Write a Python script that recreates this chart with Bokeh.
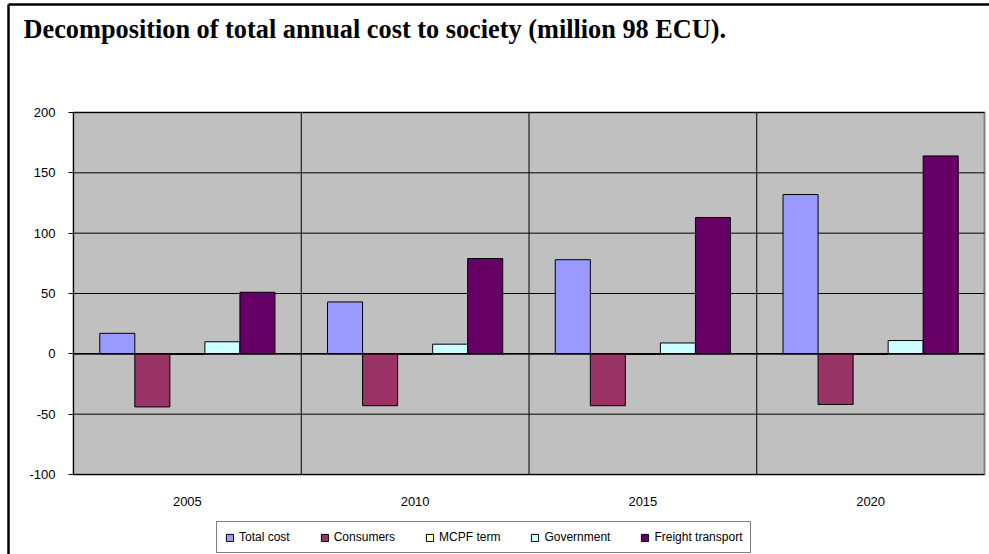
from bokeh.plotting import figure
from bokeh.models import Range1d, FixedTicker, Legend, LegendItem, Label
from bokeh.embed import file_html
from bokeh.resources import INLINE

# ---- data ----
years = ["2005", "2010", "2015", "2020"]
series = ["Total cost", "Consumers", "MCPF term", "Government", "Freight transport"]
total_cost = [17, 43, 78, 132]
consumers = [-44, -43, -43, -42]
mcpf_term = [-0.5, -0.5, -0.5, -0.5]
government = [10, 8, 9, 11]
freight_transport = [51, 79, 113, 164]
colors = ["#9999FF", "#993366", "#FFFFCC", "#CCFFFF", "#660066"]
y_ticks = [-100, -50, 0, 50, 100, 150, 200]
title_text = "Decomposition of total annual cost to society (million 98 ECU)."

values = [total_cost, consumers, mcpf_term, government, freight_transport]

# ---- layout (pixels) ----
W, H = 989, 554
plot_left, plot_right, plot_top, plot_bottom = 73, 984, 112, 474
x_lo, x_hi = 0, len(years)
y_lo, y_hi = y_ticks[0], y_ticks[-1]
kx = (plot_right - plot_left) / (x_hi - x_lo)
ky = (plot_bottom - plot_top) / (y_hi - y_lo)


def xd(px):
    return x_lo + (px - plot_left) / kx


def yd(py):
    return y_hi - (py - plot_top) / ky


p = figure(width=W, height=H, output_backend="svg", toolbar_location=None, title=None,
           x_range=Range1d(xd(0), xd(W)), y_range=Range1d(yd(H), yd(0)),
           min_border=0, background_fill_color="white", border_fill_color="white",
           outline_line_color=None)
p.xgrid.visible = False
p.ygrid.visible = False

# plot area background
p.quad(left=[x_lo], right=[x_hi], bottom=[y_lo], top=[y_hi],
       fill_color="#C0C0C0", line_color="#808080", line_width=2)

# grid lines
p.segment(x0=x_lo, x1=x_hi, y0=y_ticks, y1=y_ticks, line_color="black", line_width=1)
bounds_x = list(range(x_lo + 1, x_hi))
p.segment(x0=bounds_x, x1=bounds_x, y0=y_lo, y1=y_hi, line_color="black", line_width=1)

# bars
n = len(series)
gap = 1.5
w = 1.0 / (n + gap)
items = []
for i, (name, vals, col) in enumerate(zip(series, values, colors)):
    xs = [k + 0.5 + (i - (n - 1) / 2) * w for k in range(len(years))]
    r = p.vbar(x=xs, top=vals, bottom=0, width=w, fill_color=col,
               line_color="black", line_width=1)
    items.append(LegendItem(label=name, renderers=[r]))

# zero (category axis) line
p.segment(x0=[x_lo], x1=[x_hi], y0=[0], y1=[0], line_color="black", line_width=1.5)

# x axis
p.xaxis.fixed_location = y_lo
p.xaxis.bounds = (x_lo, x_hi)
p.xaxis.ticker = FixedTicker(ticks=[k + 0.5 for k in range(len(years))])
p.xaxis.major_label_overrides = {k + 0.5: y for k, y in enumerate(years)}
p.xaxis.axis_line_color = None
p.xaxis.major_tick_line_color = None
p.xaxis.minor_tick_line_color = None
p.xaxis.major_tick_out = 0
p.xaxis.major_tick_in = 0
p.xaxis.major_label_standoff = 22
p.xaxis.major_label_text_font = "Liberation Sans"
p.xaxis.major_label_text_font_size = "13px"
p.xaxis.major_label_text_color = "black"

# y axis
p.yaxis.fixed_location = x_lo
p.yaxis.bounds = (y_lo, y_hi)
p.yaxis.ticker = FixedTicker(ticks=y_ticks)
p.yaxis.major_label_overrides = {t: str(t) for t in y_ticks}
p.yaxis.axis_line_color = "black"
p.yaxis.major_tick_line_color = "black"
p.yaxis.major_tick_in = 0
p.yaxis.major_tick_out = 5
p.yaxis.minor_tick_line_color = None
p.yaxis.major_label_standoff = 13
p.yaxis.major_label_text_baseline = "top"
p.yaxis.major_label_text_font = "Liberation Sans"
p.yaxis.major_label_text_font_size = "13px"
p.yaxis.major_label_text_color = "black"

# legend
legend = Legend(items=items, orientation="horizontal", location=(216, H - 553),
                label_text_font="Liberation Sans", label_text_font_size="12px",
                label_text_color="black",
                glyph_width=9, glyph_height=9, label_height=14, label_standoff=5,
                spacing=30, padding=8, margin=0,
                border_line_color="black", border_line_width=1,
                background_fill_color="white", background_fill_alpha=1)
p.add_layout(legend)

# title
p.add_layout(Label(x=xd(23), y=yd(29), text=title_text,
                   text_font="Liberation Serif", text_font_style="bold",
                   text_font_size="26.3px", text_baseline="alphabetic",
                   text_color="black"))

# outer chart border (left and top edges)
p.segment(x0=[xd(8), xd(8)], y0=[yd(4), yd(4)], x1=[xd(8), xd(W + 5)], y1=[yd(H + 5), yd(4)],
          line_color="black", line_width=2.5)

open("out.html", "w").write(file_html(p, INLINE))
